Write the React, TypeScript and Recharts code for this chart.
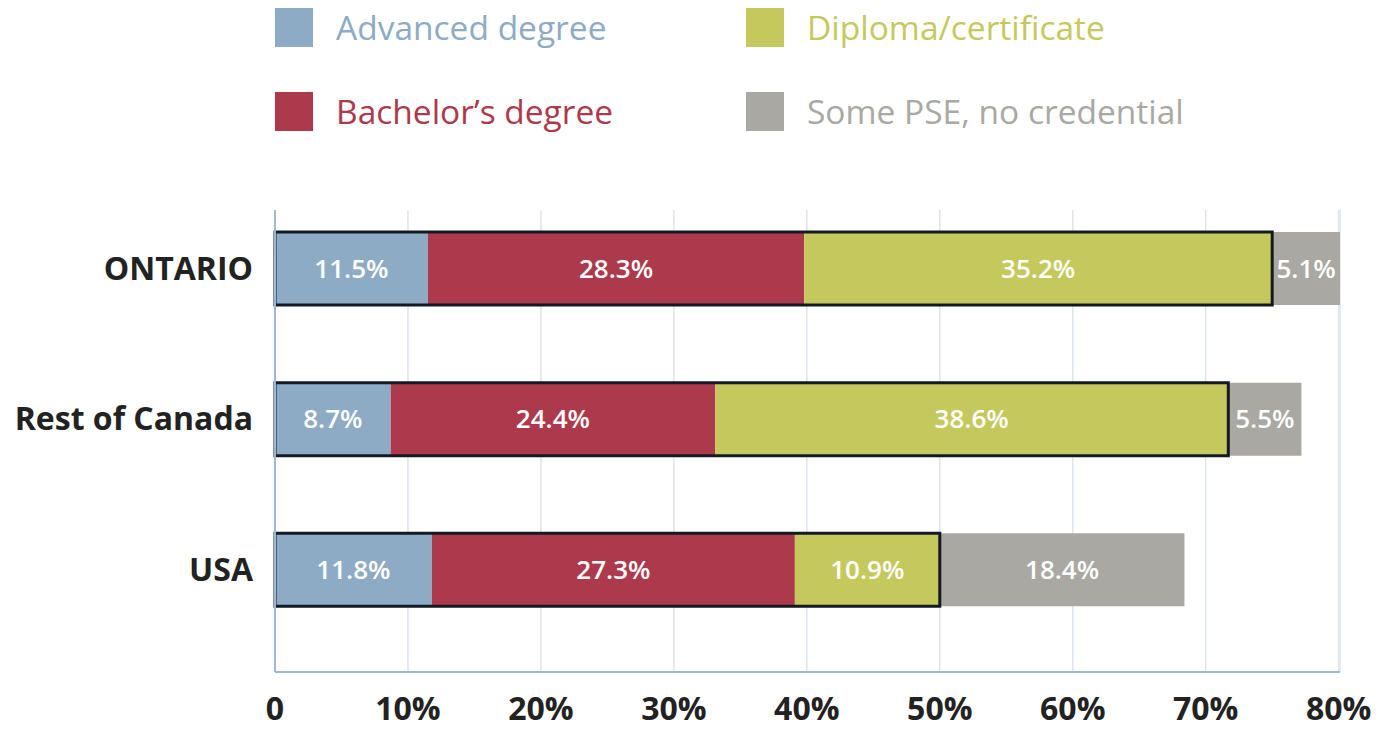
import React from 'react';
import { BarChart, Bar, XAxis, YAxis, CartesianGrid, LabelList } from 'recharts';

const regions = ['ONTARIO', 'Rest of Canada', 'USA'];
const advanced = [11.5, 8.7, 11.8];
const bachelor = [28.3, 24.4, 27.3];
const diploma = [35.2, 38.6, 10.9];
const somePse = [5.1, 5.5, 18.4];
const xTicks = [0, 10, 20, 30, 40, 50, 60, 70, 80];

const series = [
    { key: 'advanced', name: 'Advanced degree', color: '#8eabc5' },
    { key: 'bachelor', name: 'Bachelor\u2019s degree', color: '#ad394c' },
    { key: 'diploma', name: 'Diploma/certificate', color: '#c5c95d' },
    { key: 'somePse', name: 'Some PSE, no credential', color: '#a9a8a3' },
];

const data = regions.map((region, i) => ({
    region,
    advanced: advanced[i],
    bachelor: bachelor[i],
    diploma: diploma[i],
    somePse: somePse[i],
    credential: +(advanced[i] + bachelor[i] + diploma[i]).toFixed(1),
}));

const FONT = '"Open Sans", sans-serif';

const LegendBox = () => {
    // legend laid out in two columns, like the original
    const spots = [
        { left: 275, top: 8 },
        { left: 275, top: 92 },
        { left: 746, top: 8 },
        { left: 746, top: 92 },
    ];
    return (
        <>
            {series.map((s, i) => (
                <div
                    key={s.key}
                    style={{
                        position: 'absolute',
                        left: spots[i].left,
                        top: spots[i].top,
                        display: 'flex',
                        alignItems: 'center',
                        height: 39,
                    }}
                >
                    <div style={{ width: 38, height: 39, background: s.color }} />
                    <span
                        style={{
                            marginLeft: 23,
                            color: s.color,
                            fontFamily: FONT,
                            fontSize: 33.5,
                            lineHeight: '39px',
                            whiteSpace: 'nowrap',
                        }}
                    >
                        {s.name}
                    </span>
                </div>
            ))}
        </>
    );
};

export default function App() {
    return (
        <div style={{ position: 'absolute', left: 0, top: 0, width: 1391, height: 730, background: '#fff' }}>
            <LegendBox />
            <BarChart
                width={1391}
                height={730}
                data={data}
                layout="vertical"
                margin={{ top: 210, right: 51, bottom: 0, left: 0 }}
                style={{ fontFamily: FONT }}
            >
                <CartesianGrid horizontal={false} stroke="#dfe3ec" strokeWidth={1.5} />
                <XAxis
                    type="number"
                    domain={[0, 80]}
                    ticks={xTicks}
                    tickFormatter={(v: number) => (v === 0 ? '0' : `${v}%`)}
                    axisLine={{ stroke: '#9db8d2', strokeWidth: 2 }}
                    tickLine={false}
                    tickSize={0}
                    tickMargin={25}
                    height={58}
                    tick={{ fill: '#222', fontSize: 32, fontWeight: 700 }}
                />
                <YAxis
                    type="category"
                    dataKey="region"
                    width={275}
                    padding={{ top: -17, bottom: 27 }}
                    axisLine={{ stroke: '#9db8d2', strokeWidth: 2 }}
                    tickLine={false}
                    tickSize={0}
                    tickMargin={22}
                    tick={{ fill: '#222', fontSize: 32, fontWeight: 700 }}
                />
                <YAxis
                    yAxisId="outline"
                    type="category"
                    dataKey="region"
                    hide
                    padding={{ top: -17, bottom: 27 }}
                />
                {series.map((s) => (
                    <Bar key={s.key} dataKey={s.key} name={s.name} stackId="a" fill={s.color} barSize={73} isAnimationActive={false}>
                        <LabelList
                            dataKey={s.key}
                            position="center"
                            fill="#fff"
                            fontSize={26}
                            fontWeight={600}
                            formatter={(v: number) => `${v}%`}
                        />
                    </Bar>
                ))}
                <Bar
                    yAxisId="outline"
                    dataKey="credential"
                    fill="none"
                    stroke="#131a22"
                    strokeWidth={3}
                    barSize={73}
                    isAnimationActive={false}
                />
            </BarChart>
        </div>
    );
}
